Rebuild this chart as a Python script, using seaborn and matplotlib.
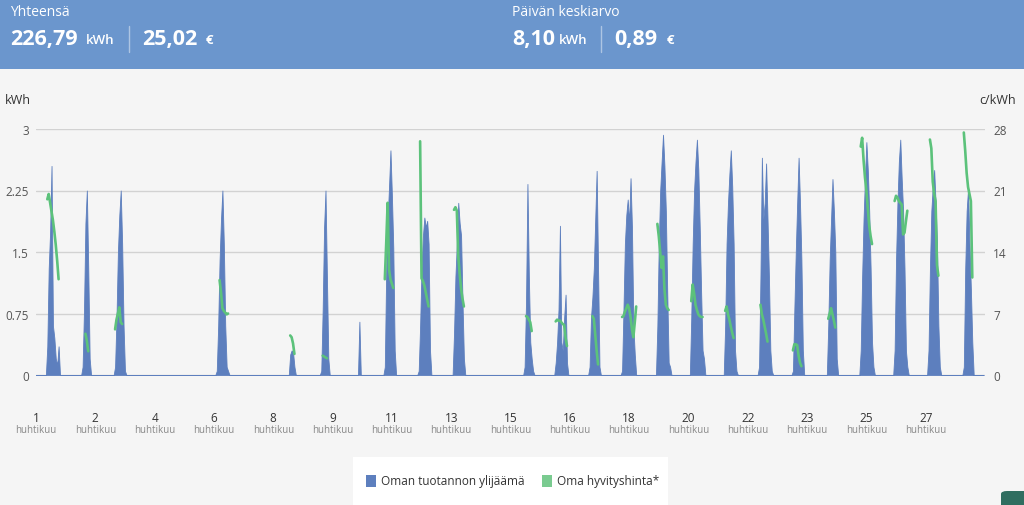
import matplotlib as mpl

mpl.use('Agg')
import numpy as np
import pandas as pd
import matplotlib.pyplot as plt
from matplotlib.patches import Rectangle, FancyBboxPatch
from matplotlib.lines import Line2D
import seaborn as sns

sns.set_style("white")
plt.rcParams['font.family'] = ['Open Sans', 'DejaVu Sans']

# hourly surplus (kWh) and own compensation price (c/kWh), hours 07..17 of each April day
kwh_01 = [0, 0.35, 1.3, 1.75, 2.55, 0.6, 0.45, 0.2, 0.12, 0.35, 0]
price_01 = [None, 20.0, 20.6, 19.6, 18.6, 17.6, 16.3, 14.8, 13.0, 10.9, None]
kwh_02 = [0, 0, 0.1, 0.8, 1.85, 2.25, 1.3, 0.2, 0, 0, 0]
price_02 = [None, None, None, None, 4.7, 3.9, 2.7, None, None, None, None]
kwh_03 = [0, 0.1, 0.7, 1.5, 1.95, 2.25, 1.6, 0.6, 0.05, 0, 0]
price_03 = [None, 5.2, 6.3, 7.0, 7.7, 6.0, 5.8, None, None, None, None]
kwh_06 = [0, 0.05, 0.6, 1.4, 1.9, 2.25, 1.6, 0.6, 0.1, 0.05, 0]
price_06 = [None, None, None, 10.8, 9.4, 7.6, 7.3, 7.1, 6.9, 7.0, None]
kwh_08 = [0, 0, 0, 0, 0, 0.25, 0.3, 0.28, 0.1, 0, 0]
price_08 = [None, None, None, None, None, 4.5, 4.3, 3.6, 2.4, None, None]
kwh_09 = [0, 0, 0, 0.05, 0.8, 1.8, 2.25, 1.2, 0.2, 0, 0]
price_09 = [None, None, None, None, 2.2, 2.1, 2.0, 1.9, None, None, None]
kwh_10 = [0, 0, 0, 0, 0, 0, 0.65, 0, 0, 0, 0]
price_10 = [None] * 11
kwh_11 = [0.1, 1.3, 1.9, 2.3, 2.74, 2.2, 1.55, 0.3, 0, 0, 0]
price_11 = [10.9, 15.0, 19.6, 12.0, 10.9, 10.4, 9.9, None, None, None, None]
kwh_12 = [0.05, 0.6, 1.3, 1.7, 1.92, 1.8, 1.88, 1.6, 0.3, 0, 0]
price_12 = [None, 26.6, 11.0, 10.7, 10.2, 9.4, 8.6, 7.8, None, None, None]
kwh_13 = [0, 0.5, 1.2, 1.6, 2.1, 1.85, 1.7, 0.9, 0.2, 0, 0]
price_13 = [None, 18.8, 19.1, 18.7, 13.5, 11.5, 9.8, 8.7, 7.8, None, None]
kwh_15 = [0, 0, 0, 0.1, 0.9, 2.33, 1.2, 0.4, 0.2, 0.05, 0]
price_15 = [None, None, None, None, 6.7, 6.6, 6.3, 6.0, 5.0, None, None]
kwh_16 = [0, 0.15, 0.4, 0.8, 1.82, 0.4, 0.3, 0.7, 0.98, 0.15, 0]
price_16 = [None, 6.1, 6.3, 6.2, 6.2, 6.0, 5.8, 5.7, 4.2, 3.3, None]
kwh_17 = [0, 0.1, 0.7, 0.95, 1.3, 1.9, 2.49, 1.3, 0.1, 0, 0]
price_17 = [None, None, None, 6.7, 6.4, 4.6, 2.8, 1.2, None, None, None]
kwh_18 = [0.05, 0.8, 1.6, 1.95, 2.14, 1.85, 2.4, 1.8, 0.6, 0.25, 0]
price_18 = [6.6, 6.7, 7.2, 7.6, 8.0, 7.6, 6.6, 5.2, 4.3, 6.0, 7.8]
kwh_19 = [0, 0.6, 1.6, 2.25, 2.6, 2.93, 2.55, 2.0, 1.0, 0.15, 0.1]
price_19 = [None, 17.2, 15.8, 14.0, 12.2, 13.5, 9.8, 8.0, 7.6, 7.4, None]
kwh_20 = [0, 0.7, 1.6, 2.25, 2.6, 2.87, 2.5, 1.8, 1.0, 0.3, 0.2]
price_20 = [None, 8.4, 10.3, 9.3, 8.0, 7.4, 6.9, 6.7, 6.6, 6.6, None]
kwh_21 = [0, 0.6, 1.6, 2.1, 2.45, 2.74, 2.3, 1.6, 0.3, 0.05, 0]
price_21 = [None, 7.3, 7.8, 6.9, 6.3, 5.5, 4.8, 4.2, None, None, None]
kwh_22 = [0, 0.1, 1.2, 2.65, 1.9, 2.1, 2.58, 1.9, 1.2, 0.3, 0.05]
price_22 = [None, None, 8.0, 6.9, 6.3, 5.5, 4.7, 3.8, None, None, None]
kwh_23 = [0, 0.05, 0.8, 1.5, 2.1, 2.65, 2.1, 1.4, 0.3, 0, 0]
price_23 = [None, 2.8, 3.5, 3.5, 3.4, 2.2, 1.4, 1.0, None, None, None]
kwh_24 = [0, 0, 0.6, 1.4, 1.9, 2.39, 2.0, 1.5, 0.2, 0, 0]
price_24 = [None, None, 6.4, 7.0, 7.6, 6.9, 6.2, 5.4, None, None, None]
kwh_25 = [0, 0.3, 1.2, 1.9, 2.4, 2.84, 2.5, 2.0, 1.3, 0.4, 0.1]
price_25 = [None, 26.0, 27.0, 24.5, 22.5, 21.0, 19.0, 17.0, 15.8, 14.9, None]
kwh_26 = [0, 0.3, 1.4, 2.1, 2.6, 2.87, 2.4, 2.0, 1.3, 0.3, 0.1]
price_26 = [None, 19.8, 20.4, 20.2, 19.8, 19.6, 19.4, 16.0, 16.2, 17.5, 18.7]
kwh_27 = [0, 0.3, 1.3, 2.0, 2.3, 2.5, 2.1, 1.6, 0.6, 0.1, 0]
price_27 = [None, None, 26.8, 25.8, 22.0, 20.6, 19.8, 12.5, 11.3, None, None]
kwh_28 = [0, 0, 0.1, 1.3, 2.0, 2.27, 1.6, 1.05, 0.4, 0, 0]
price_28 = [None, None, 27.6, 25.5, 23.0, 21.4, 20.6, 19.8, 11.1, None, None]

days = [1, 2, 3, 6, 8, 9, 10, 11, 12, 13, 15, 16, 17, 18, 19, 20, 21, 22, 23, 24, 25, 26, 27, 28]
day_kwh = [kwh_01, kwh_02, kwh_03, kwh_06, kwh_08, kwh_09, kwh_10, kwh_11, kwh_12, kwh_13, kwh_15,
           kwh_16, kwh_17, kwh_18, kwh_19, kwh_20, kwh_21, kwh_22, kwh_23, kwh_24, kwh_25, kwh_26,
           kwh_27, kwh_28]
day_price = [price_01, price_02, price_03, price_06, price_08, price_09, price_10, price_11, price_12,
             price_13, price_15, price_16, price_17, price_18, price_19, price_20, price_21, price_22,
             price_23, price_24, price_25, price_26, price_27, price_28]
first_hour = 7
n_days = 28

tick_days = [1, 2, 4, 6, 8, 9, 11, 13, 15, 16, 18, 20, 22, 23, 25, 27]
month_name = 'huhtikuu'
kwh_ticks = [0, 0.75, 1.5, 2.25, 3]
price_ticks = [0, 7, 14, 21, 28]

total_kwh, total_eur = '226,79', '25,02'
avg_kwh, avg_eur = '8,10', '0,89'
series_names = ['Oman tuotannon ylijäämä', 'Oma hyvityshinta*']

BLUE = '#5d7fbe'
GREEN = '#5cc27b'
BG = '#f5f5f5'

# build hourly tables
hours = np.arange(n_days * 24)
kwh = np.zeros(len(hours))
rows = []
for d, k, p in zip(days, day_kwh, day_price):
    h0 = (d - 1) * 24 + first_hour
    kwh[h0:h0 + len(k)] = k
    for i, v in enumerate(p):
        if v is not None:
            rows.append({'hour': h0 + i, 'price': v, 'day': d})
surplus_df = pd.DataFrame({'hour': hours, 'kwh': kwh})
price_df = pd.DataFrame(rows)

W, H = 1024, 506


def fx(px):
    return px / W


def fy(py):
    return 1 - py / H


fig = plt.figure(figsize=(W / 100, H / 100), dpi=100, facecolor=BG)

# header band
fig.patches.append(Rectangle((0, fy(70)), 1, 70 / H, transform=fig.transFigure,
                             facecolor='#6b96cd', edgecolor='none', zorder=0))
fig.text(fx(10), fy(13), 'Yhteensä', color='white', fontsize=10, va='center', ha='left')
fig.text(fx(10), fy(40), total_kwh, color='white', fontsize=15.5, fontweight='bold', va='center')
fig.text(fx(86), fy(41), 'kWh', color='white', fontsize=9.5, fontweight='semibold', va='center')
fig.text(fx(142), fy(40), total_eur, color='white', fontsize=15.5, fontweight='bold', va='center')
fig.text(fx(206), fy(41), '€', color='white', fontsize=9.5, fontweight='bold', va='center')
fig.text(fx(512), fy(13), 'Päivän keskiarvo', color='white', fontsize=10, va='center', ha='left')
fig.text(fx(512), fy(40), avg_kwh, color='white', fontsize=15.5, fontweight='bold', va='center')
fig.text(fx(559), fy(41), 'kWh', color='white', fontsize=9.5, fontweight='semibold', va='center')
fig.text(fx(614), fy(40), avg_eur, color='white', fontsize=15.5, fontweight='bold', va='center')
fig.text(fx(667), fy(41), '€', color='white', fontsize=9.5, fontweight='bold', va='center')
for sx in [129, 601]:
    fig.lines.append(Line2D([fx(sx), fx(sx)], [fy(27), fy(53)], transform=fig.transFigure,
                            color='white', alpha=0.45, lw=1))

# main axes
ax = fig.add_axes([fx(36), fy(376), fx(985) - fx(36), (376 - 130) / H])
ax.set_facecolor(BG)
ax.fill_between(surplus_df['hour'], surplus_df['kwh'], color=BLUE, lw=0.6, edgecolor=BLUE, zorder=2)
ax.set_xlim(0, n_days * 24)
ax.set_ylim(0, 3)
ax.set_yticks(kwh_ticks, labels=[f'{t:g}' for t in kwh_ticks])
ax.yaxis.grid(True, color='#d2d2d2', lw=1)
ax.xaxis.grid(False)
ax.set_axisbelow(True)
tick_hours = np.arange(len(tick_days)) * 42
ax.set_xticks(tick_hours, labels=[str(d) for d in tick_days])
ax.tick_params(axis='x', length=0, pad=26, labelsize=8.5, labelcolor='#333333')
ax.tick_params(axis='y', length=0, pad=5, labelsize=8.5, labelcolor='#555555')
for th in tick_hours:
    ax.text(th, -0.22, month_name, transform=ax.get_xaxis_transform(), ha='center', va='center',
            fontsize=7, color='#888888')
for s in ax.spines.values():
    s.set_visible(False)

ax2 = ax.twinx()
sns.lineplot(data=price_df, x='hour', y='price', units='day', estimator=None, color=GREEN,
             lw=1.9, ax=ax2, legend=False, zorder=3)
ax2.set_ylim(0, 28)
ax2.set_xlim(0, n_days * 24)
ax2.set_yticks(price_ticks, labels=[str(t) for t in price_ticks])
ax2.tick_params(axis='y', length=0, pad=6, labelsize=8.5, labelcolor='#555555')
ax2.set_xlabel('')
ax2.set_ylabel('')
ax.set_xlabel('')
for s in ax2.spines.values():
    s.set_visible(False)

fig.text(fx(5), fy(100), 'kWh', fontsize=9, color='#333333', va='center', ha='left')
fig.text(fx(1016), fy(100), 'c/kWh', fontsize=9, color='#333333', va='center', ha='right')

# legend box
fig.patches.append(Rectangle((fx(353), 0), fx(668) - fx(353), 48 / H, transform=fig.transFigure,
                             facecolor='white', edgecolor='none', zorder=0))
fig.patches.append(Rectangle((fx(366), fy(488)), 10 / W, 12 / H, transform=fig.transFigure,
                             facecolor=BLUE, edgecolor='none'))
fig.text(fx(381), fy(482), series_names[0], fontsize=8.5, color='#333333', va='center')
fig.patches.append(Rectangle((fx(542), fy(488)), 10 / W, 12 / H, transform=fig.transFigure,
                             facecolor='#7acb90', edgecolor='none'))
fig.text(fx(557), fy(482), series_names[1], fontsize=8.5, color='#333333', va='center')

# corner widget tab
fig.patches.append(FancyBboxPatch((fx(1001), fy(512)), 30 / W, 20 / H, transform=fig.transFigure,
                                  boxstyle='round,pad=0,rounding_size=0.006',
                                  facecolor='#2f6e60', edgecolor='none'))

fig.savefig('out.png', dpi=100, facecolor=BG)
